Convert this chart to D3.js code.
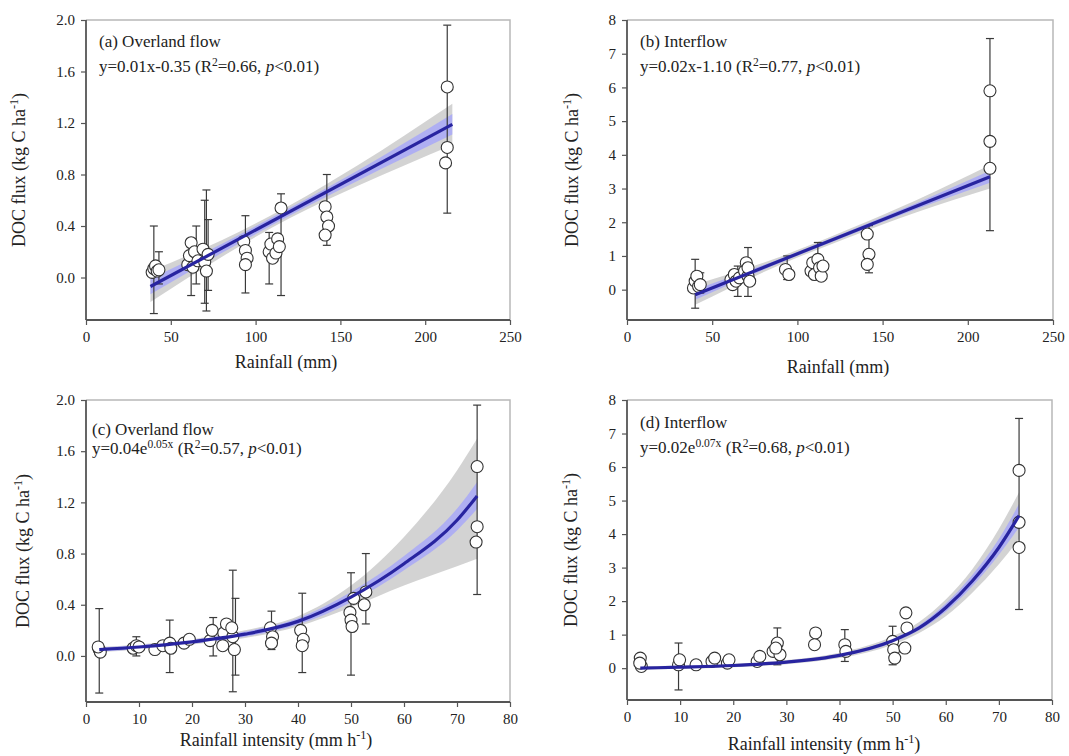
<!DOCTYPE html>
<html>
<head>
<meta charset="utf-8">
<script src="https://cdn.jsdelivr.net/npm/d3@7"></script>
<style>
  body { margin: 0; background: #fff; }
  svg text { font-family: 'Liberation Serif', 'Times New Roman', serif; }
</style>
</head>
<body>
<div id="container"></div>
<script>
// ---- data ----
// (a) overland flow vs rainfall  [rainfall mm, DOC flux]
let pointsA = [[39,0.04],[40,0.07],[41,0.09],[42,0.05],[43,0.06],
  [60,0.10],[61,0.17],[62,0.27],[63,0.08],[64,0.20],[66,0.13],
  [69,0.22],[70,0.12],[71,0.05],[72,0.18],
  [93,0.28],[94,0.21],[95,0.15],[94,0.10],
  [108,0.20],[109,0.26],[110,0.15],[112,0.19],[113,0.30],[115,0.54],[114,0.24],
  [141,0.55],[142,0.47],[143,0.40],[141,0.33],
  [213,1.48],[213,1.01],[212,0.89]];
// [x, low, high]
let errA = [[40,-0.28,0.40],[43,-0.05,0.20],[62,-0.14,0.30],[65,-0.05,0.40],[70,-0.20,0.60],
  [71,-0.26,0.68],[72,-0.10,0.45],[94,-0.12,0.48],[108,-0.05,0.35],[115,-0.14,0.65],
  [142,0.25,0.80],[213,0.50,1.96]];
let fitXA = [38, 216];
let fitYA = [-0.07, 1.19];
let bandXA = [38, 80, 120, 160, 216];
let grayLoA = [-0.19, 0.16, 0.46, 0.71, 1.03];
let grayHiA = [0.05, 0.29, 0.56, 0.87, 1.35];
let blueLoA = [-0.13, 0.19, 0.48, 0.75, 1.11];
let blueHiA = [-0.01, 0.26, 0.54, 0.83, 1.27];

// (b) interflow vs rainfall
let pointsB = [[39,0.05],[40,0.25],[41,0.40],[42,0.10],[43,0.15],
  [61,0.30],[62,0.15],[63,0.45],[64,0.25],[66,0.35],
  [69,0.55],[70,0.80],[71,0.40],[72,0.25],[71,0.65],
  [93,0.60],[95,0.45],
  [108,0.55],[109,0.80],[110,0.45],[112,0.90],[113,0.65],[114,0.40],[115,0.70],
  [141,1.65],[142,1.05],[141,0.75],
  [213,5.90],[213,4.40],[213,3.60]];
let errB = [[40,-0.55,0.90],[43,-0.10,0.50],[65,-0.20,0.70],[71,-0.20,1.25],[94,0.30,1.00],
  [112,0.30,1.40],[142,0.50,1.90],[213,1.75,7.45]];
let fitXB = [40, 213];
let fitYB = [-0.15, 3.35];
let bandXB = [40, 90, 130, 170, 213];
let grayLoB = [-0.45, 0.74, 1.55, 2.30, 3.00];
let grayHiB = [0.15, 0.98, 1.79, 2.66, 3.70];
let blueLoB = [-0.30, 0.80, 1.61, 2.39, 3.17];
let blueHiB = [0.00, 0.92, 1.73, 2.57, 3.53];

// (c) overland flow vs rainfall intensity  [mm h-1, DOC flux]
let pointsC = [[2.5,0.05],[2.7,0.03],[2.3,0.07],
  [8.9,0.06],[9.5,0.08],[10,0.07],
  [13,0.05],[14.5,0.08],[15.8,0.10],[16,0.06],
  [18.5,0.10],[19.5,0.13],
  [23.4,0.12],[23.8,0.20],[25.8,0.08],[26,0.18],[26.5,0.25],[27.7,0.15],[28,0.05],[27.5,0.22],
  [34.8,0.22],[35.2,0.15],[35,0.10],
  [40.5,0.20],[41,0.13],[40.8,0.08],
  [49.8,0.34],[50,0.28],[50.2,0.23],[50.5,0.45],[52.5,0.40],[52.8,0.50],
  [73.8,1.48],[73.8,1.01],[73.6,0.89]];
let errC = [[2.5,-0.29,0.37],[9.5,0.00,0.15],[15.8,-0.13,0.28],[24,0.00,0.30],[27.7,-0.28,0.67],
  [28.2,-0.15,0.45],[35,0.05,0.35],[40.8,-0.13,0.49],[50,-0.15,0.65],[52.8,0.25,0.80],
  [73.8,0.48,1.96]];
let fitXC = [2.5, 10, 20, 30, 40, 50, 60, 70, 73.8];
let fitYC = [0.05, 0.07, 0.11, 0.17, 0.27, 0.46, 0.72, 1.06, 1.25];
let grayLoC = [0.03, 0.05, 0.09, 0.14, 0.23, 0.38, 0.55, 0.70, 0.76];
let grayHiC = [0.07, 0.09, 0.13, 0.20, 0.31, 0.55, 0.93, 1.45, 1.70];
let blueLoC = [0.035, 0.055, 0.095, 0.15, 0.245, 0.42, 0.67, 0.98, 1.15];
let blueHiC = [0.065, 0.085, 0.125, 0.19, 0.295, 0.50, 0.78, 1.15, 1.36];

// (d) interflow vs rainfall intensity
let pointsD = [[2.5,0.30],[2.7,0.05],[2.4,0.15],
  [9.7,0.10],[9.9,0.25],
  [13,0.10],[16,0.20],[16.5,0.30],[18.9,0.15],[19.2,0.25],
  [24.5,0.20],[25,0.35],[27.5,0.50],[28.3,0.75],[28.8,0.40],[28,0.60],
  [35.5,1.05],[35.3,0.70],
  [41,0.70],[41.2,0.50],
  [50,0.80],[50.2,0.55],[50.4,0.30],
  [52.5,1.65],[52.7,1.20],[52.3,0.60],
  [73.8,5.90],[73.8,4.35],[73.8,3.60]];
let errD = [[9.7,-0.65,0.75],[28.3,0.10,1.20],[41,0.20,1.15],[50,0.10,1.25],[73.8,1.75,7.45]];
let fitXD = [2.5, 10, 20, 30, 40, 50, 55, 60, 65, 70, 73.8];
let fitYD = [0.00, 0.03, 0.08, 0.18, 0.38, 0.82, 1.20, 1.80, 2.60, 3.60, 4.55];
let grayLoD = [-0.05, -0.02, 0.03, 0.12, 0.30, 0.70, 1.05, 1.55, 2.25, 3.10, 3.85];
let grayHiD = [0.05, 0.08, 0.13, 0.24, 0.46, 0.95, 1.38, 2.05, 2.95, 4.15, 5.25];
let blueLoD = [-0.02, 0.01, 0.06, 0.15, 0.34, 0.76, 1.13, 1.68, 2.44, 3.38, 4.20];
let blueHiD = [0.02, 0.05, 0.10, 0.21, 0.42, 0.88, 1.28, 1.93, 2.78, 3.85, 4.90];

let rainTicks = [0, 50, 100, 150, 200, 250];
let intensityTicks = [0, 10, 20, 30, 40, 50, 60, 70, 80];
let overlandTicks = [0, 0.4, 0.8, 1.2, 1.6, 2.0];
let interflowTicks = [0, 1, 2, 3, 4, 5, 6, 7, 8];

// ---- drawing ----
let w = 1069;
let h = 756;

let viz = d3.select("#container")
  .append("svg")
  .attr("width", w)
  .attr("height", h)
  .style("background-color", "#fff");

// writes a line made of plain / superscript / italic pieces
function richText(t, parts, size) {
  parts.forEach(p => {
    let s = t.append("tspan").text(p.t);
    if (p.sup) {
      s.attr("dy", -size * 0.38).attr("font-size", size * 0.68);
    } else if (p.after) {
      s.attr("dy", size * 0.38);
    }
    if (p.it) s.attr("font-style", "italic");
  });
}

function drawPanel(p) {
  let x = d3.scaleLinear().domain(p.xDomain).range(p.xRange);
  let y = d3.scaleLinear().domain(p.yDomain).range(p.yRange);
  let g = viz.append("g");

  // light frame on top and right
  g.append("path")
    .attr("d", `M${p.xRange[0]},${p.yRange[1]}H${p.xRange[1]}V${p.yRange[0]}`)
    .attr("fill", "none")
    .attr("stroke", "#b8b8b8")
    .attr("stroke-width", 1.5);

  // confidence bands
  let grayArea = d3.area()
    .x((d, i) => x(p.bandX[i]))
    .y0((d, i) => y(p.grayLo[i]))
    .y1((d, i) => y(p.grayHi[i]))
    .curve(d3.curveMonotoneX);
  g.append("path").datum(p.bandX).attr("d", grayArea)
    .attr("fill", "#cbcbcb").attr("opacity", 0.85);

  let blueArea = d3.area()
    .x((d, i) => x(p.bandX[i]))
    .y0((d, i) => y(p.blueLo[i]))
    .y1((d, i) => y(p.blueHi[i]))
    .curve(d3.curveMonotoneX);
  g.append("path").datum(p.bandX).attr("d", blueArea)
    .attr("fill", "rgb(160,160,255)").attr("opacity", 0.7);

  // error bars
  let eb = g.selectAll(".eb").data(p.err).enter().append("g").attr("class", "eb")
    .attr("stroke", "#3a3a3a").attr("stroke-width", 1.2);
  eb.append("line")
    .attr("x1", d => x(d[0])).attr("x2", d => x(d[0]))
    .attr("y1", d => y(d[1])).attr("y2", d => y(d[2]));
  eb.append("line")
    .attr("x1", d => x(d[0]) - 4).attr("x2", d => x(d[0]) + 4)
    .attr("y1", d => y(d[1])).attr("y2", d => y(d[1]));
  eb.append("line")
    .attr("x1", d => x(d[0]) - 4).attr("x2", d => x(d[0]) + 4)
    .attr("y1", d => y(d[2])).attr("y2", d => y(d[2]));

  // open circles
  g.selectAll(".pt").data(p.points).enter().append("circle").attr("class", "pt")
    .attr("cx", d => x(d[0]))
    .attr("cy", d => y(d[1]))
    .attr("r", 6)
    .attr("fill", "#fff")
    .attr("stroke", "#333")
    .attr("stroke-width", 1.1);

  // fitted line
  let line = d3.line()
    .x((d, i) => x(p.fitX[i]))
    .y((d, i) => y(d))
    .curve(d3.curveMonotoneX);
  g.append("path").datum(p.fitY).attr("d", line)
    .attr("fill", "none")
    .attr("stroke", "rgb(40,36,160)")
    .attr("stroke-width", 3.2);

  // axes
  let xAxis = d3.axisBottom(x).tickValues(p.xTicks).tickSize(5).tickPadding(6).tickFormat(d3.format("d"));
  let xg = g.append("g").attr("transform", `translate(0,${p.yRange[0]})`).call(xAxis);
  let yAxis = d3.axisLeft(y).tickValues(p.yTicks).tickSize(5).tickPadding(6).tickFormat(d3.format(p.yFmt));
  let yg = g.append("g").attr("transform", `translate(${p.xRange[0]},0)`).call(yAxis);
  [xg, yg].forEach(a => {
    a.attr("font-family", null).attr("font-size", null);
    a.select(".domain").attr("stroke", "#555").attr("stroke-width", 1.8);
    a.selectAll(".tick line").attr("stroke", "#555").attr("stroke-width", 1.2);
    a.selectAll(".tick text").style("font-size", "15px").attr("fill", "#222");
  });
  yg.select(".domain").attr("d", `M0,${p.yRange[0]}V${p.yRange[1]}`);
  xg.select(".domain").attr("d", `M${p.xRange[0]},0H${p.xRange[1]}`);

  // labels
  let t1 = g.append("text").attr("x", p.labelX).attr("y", p.labelY)
    .attr("font-size", 17).attr("fill", "#222");
  richText(t1, p.title, 17);
  let t2 = g.append("text").attr("x", p.labelX).attr("y", p.labelY + p.lineGap)
    .attr("font-size", 17).attr("fill", "#222");
  richText(t2, p.eq, 17);

  let xt = g.append("text").attr("x", p.xTitleX).attr("y", p.xTitleY)
    .attr("text-anchor", "middle").attr("font-size", 18).attr("fill", "#222");
  richText(xt, p.xTitle, 18);

  let yt = g.append("text")
    .attr("transform", `translate(${p.yTitleX},${p.yTitleY}) rotate(-90)`)
    .attr("text-anchor", "middle").attr("font-size", 18).attr("fill", "#222");
  richText(yt, [{t: "DOC flux (kg C ha"}, {t: "-1", sup: true}, {t: ")", after: true}], 18);
}

drawPanel({
  xDomain: [0, 250], xRange: [86, 510], yDomain: [-0.33, 2.0], yRange: [320, 20],
  xTicks: rainTicks, yTicks: overlandTicks, yFmt: ".1f",
  points: pointsA, err: errA, fitX: fitXA, fitY: fitYA,
  bandX: bandXA, grayLo: grayLoA, grayHi: grayHiA, blueLo: blueLoA, blueHi: blueHiA,
  labelX: 99, labelY: 47, lineGap: 25,
  title: [{t: "(a) Overland flow"}],
  eq: [{t: "y=0.01x-0.35 (R"}, {t: "2", sup: true}, {t: "=0.66, ", after: true}, {t: "p", it: true}, {t: "<0.01)"}],
  xTitle: [{t: "Rainfall (mm)"}], xTitleX: 286, xTitleY: 368,
  yTitleX: 25, yTitleY: 170
});

drawPanel({
  xDomain: [0, 250], xRange: [627, 1053], yDomain: [-0.9, 8], yRange: [320, 20],
  xTicks: rainTicks, yTicks: interflowTicks, yFmt: "d",
  points: pointsB, err: errB, fitX: fitXB, fitY: fitYB,
  bandX: bandXB, grayLo: grayLoB, grayHi: grayHiB, blueLo: blueLoB, blueHi: blueHiB,
  labelX: 640, labelY: 47, lineGap: 25,
  title: [{t: "(b) Interflow"}],
  eq: [{t: "y=0.02x-1.10 (R"}, {t: "2", sup: true}, {t: "=0.77, ", after: true}, {t: "p", it: true}, {t: "<0.01)"}],
  xTitle: [{t: "Rainfall (mm)"}], xTitleX: 838, xTitleY: 373,
  yTitleX: 578, yTitleY: 170
});

drawPanel({
  xDomain: [0, 80], xRange: [86, 510], yDomain: [-0.36, 2.0], yRange: [702, 400],
  xTicks: intensityTicks, yTicks: overlandTicks, yFmt: ".1f",
  points: pointsC, err: errC, fitX: fitXC, fitY: fitYC,
  bandX: fitXC, grayLo: grayLoC, grayHi: grayHiC, blueLo: blueLoC, blueHi: blueHiC,
  labelX: 92, labelY: 435, lineGap: 19,
  title: [{t: "(c) Overland flow"}],
  eq: [{t: "y=0.04e"}, {t: "0.05x", sup: true}, {t: " (R", after: true}, {t: "2", sup: true}, {t: "=0.57, ", after: true}, {t: "p", it: true}, {t: "<0.01)"}],
  xTitle: [{t: "Rainfall intensity (mm h"}, {t: "-1", sup: true}, {t: ")", after: true}], xTitleX: 276, xTitleY: 746,
  yTitleX: 29, yTitleY: 551
});

drawPanel({
  xDomain: [0, 80], xRange: [627, 1052], yDomain: [-0.95, 8], yRange: [700, 400],
  xTicks: intensityTicks, yTicks: interflowTicks, yFmt: "d",
  points: pointsD, err: errD, fitX: fitXD, fitY: fitYD,
  bandX: fitXD, grayLo: grayLoD, grayHi: grayHiD, blueLo: blueLoD, blueHi: blueHiD,
  labelX: 640, labelY: 428, lineGap: 25,
  title: [{t: "(d) Interflow"}],
  eq: [{t: "y=0.02e"}, {t: "0.07x", sup: true}, {t: " (R", after: true}, {t: "2", sup: true}, {t: "=0.68, ", after: true}, {t: "p", it: true}, {t: "<0.01)"}],
  xTitle: [{t: "Rainfall intensity (mm h"}, {t: "-1", sup: true}, {t: ")", after: true}], xTitleX: 824, xTitleY: 750,
  yTitleX: 577, yTitleY: 550
});
</script>
</body>
</html>
